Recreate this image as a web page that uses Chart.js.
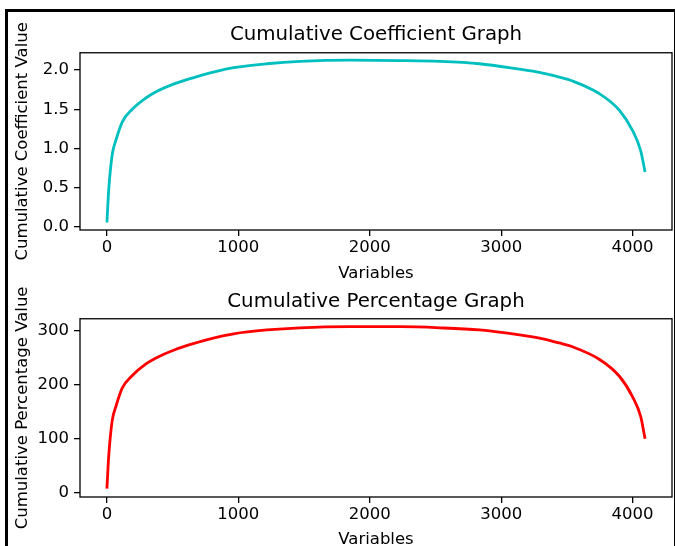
<!DOCTYPE html>
<html>
<head>
<meta charset="utf-8">
<script src="https://cdn.jsdelivr.net/npm/chart.js@4"></script>
<style>
  html, body { margin: 0; padding: 0; background: #fff; overflow: hidden; }
  body { width: 675px; height: 546px; position: relative; }
  canvas { position: absolute; left: 0; }
  #coefChart { top: 0; }
  #pctChart { top: 283px; }
  #frame {
    position: absolute; left: 5px; top: 9px; width: 666px; height: 560px;
    border-top: 3px solid #000; border-left: 3px solid #000; border-right: 1px solid #000;
  }
</style>
</head>
<body>
<canvas id="coefChart" width="675" height="285"></canvas>
<canvas id="pctChart" width="675" height="270"></canvas>
<div id="frame"></div>
<script>
        // values
        const variableIdx = [0, 10, 21, 41, 71, 117, 193, 294, 370, 521, 673, 825, 964, 1217, 1470, 1849,
            2229, 2532, 2835, 3139, 3291, 3442, 3543, 3746, 3898, 3999, 4062, 4095];
        const coefficientValues = [0.055, 0.38, 0.63, 0.93, 1.12, 1.34, 1.50, 1.64, 1.72, 1.83, 1.91, 1.98, 2.03, 2.08, 2.11, 2.125,
            2.12, 2.11, 2.08, 2.01, 1.97, 1.91, 1.86, 1.70, 1.49, 1.23, 0.97, 0.70];
        const percentageValues = [8, 55, 91, 135, 162, 194, 217, 238, 249, 265, 277, 287, 294, 301, 305, 307,
            307, 305, 301, 292, 286, 277, 270, 247, 216, 178, 141, 100];
        const xTickValues = [0, 1000, 2000, 3000, 4000];
        const coefTickValues = [0, 0.5, 1, 1.5, 2];
        const pctTickValues = [0, 100, 200, 300];

        const FONT = 'DejaVu Sans';

        // closed frame around the plot area, like matplotlib spines
        const axesBox = {
            id: 'axesBox',
            afterDatasetsDraw(chart) {
                const { ctx, chartArea: a } = chart;
                ctx.save();
                ctx.strokeStyle = '#000';
                ctx.lineWidth = 1.3;
                ctx.strokeRect(a.left, a.top, a.right - a.left, a.bottom - a.top);
                ctx.restore();
            }
        };

        function makeChart(id, cfg) {
            const canvas = document.getElementById(id);
            return new Chart(canvas.getContext('2d'), {
                type: 'line',
                data: {
                    datasets: [{
                        label: cfg.title,
                        data: variableIdx.map((x, i) => ({ x: x, y: cfg.values[i] })),
                        borderColor: cfg.color,
                        borderWidth: 2.8,
                        pointRadius: 0,
                        fill: false,
                        cubicInterpolationMode: 'monotone'
                    }]
                },
                options: {
                    responsive: false,
                    animation: false,
                    devicePixelRatio: 1,
                    layout: { padding: { left: 0, right: 3, top: 0, bottom: 0 } },
                    plugins: {
                        legend: { display: false },
                        tooltip: { enabled: false },
                        title: {
                            display: true,
                            text: cfg.title,
                            fullSize: false,
                            color: '#000',
                            font: { family: FONT, size: 19.8, weight: 'normal' },
                            padding: cfg.titlePad
                        }
                    },
                    scales: {
                        x: {
                            type: 'linear',
                            min: -205,
                            max: 4300,
                            afterBuildTicks: axis => { axis.ticks = xTickValues.map(v => ({ value: v })); },
                            afterFit: axis => { axis.height = cfg.xHeight; },
                            grid: { drawOnChartArea: false, tickLength: 6, color: '#000', lineWidth: 1.3 },
                            border: { display: false },
                            ticks: {
                                color: '#000', padding: 2, maxRotation: 0, autoSkip: false,
                                font: { family: FONT, size: 16.5 },
                                callback: v => String(v)
                            },
                            title: {
                                display: true, text: 'Variables', color: '#000',
                                font: { family: FONT, size: 16.5 },
                                padding: { top: 0, bottom: cfg.xTitleBottom }
                            }
                        },
                        y: {
                            type: 'linear',
                            min: cfg.yMin,
                            max: cfg.yMax,
                            afterBuildTicks: axis => { axis.ticks = cfg.ticks.map(v => ({ value: v })); },
                            afterFit: axis => { axis.width = 80; },
                            grid: { drawOnChartArea: false, tickLength: 6, color: '#000', lineWidth: 1.3 },
                            border: { display: false },
                            ticks: {
                                color: '#000', padding: 5,
                                font: { family: FONT, size: 16.5 },
                                callback: cfg.fmt
                            },
                            title: {
                                display: true, text: cfg.yLabel, color: '#000',
                                font: { family: FONT, size: 16.5 },
                                padding: { top: 13, bottom: 0 }
                            }
                        }
                    }
                },
                plugins: [axesBox]
            });
        }

        makeChart('coefChart', {
            title: 'Cumulative Coefficient Graph',
            yLabel: 'Cumulative Coefficient Value',
            values: coefficientValues,
            ticks: coefTickValues,
            fmt: v => v.toFixed(1),
            color: '#00bfbf',
            yMin: -0.04,
            yMax: 2.22,
            titlePad: { top: 23, bottom: 6 },
            xHeight: 55,
            xTitleBottom: 1
        });

        makeChart('pctChart', {
            title: 'Cumulative Percentage Graph',
            yLabel: 'Cumulative Percentage Value',
            values: percentageValues,
            ticks: pctTickValues,
            fmt: v => String(v),
            color: '#ff0000',
            yMin: -7.4,
            yMax: 321.7,
            titlePad: { top: 7, bottom: 5 },
            xHeight: 56,
            xTitleBottom: 3
        });
</script>
</body>
</html>
